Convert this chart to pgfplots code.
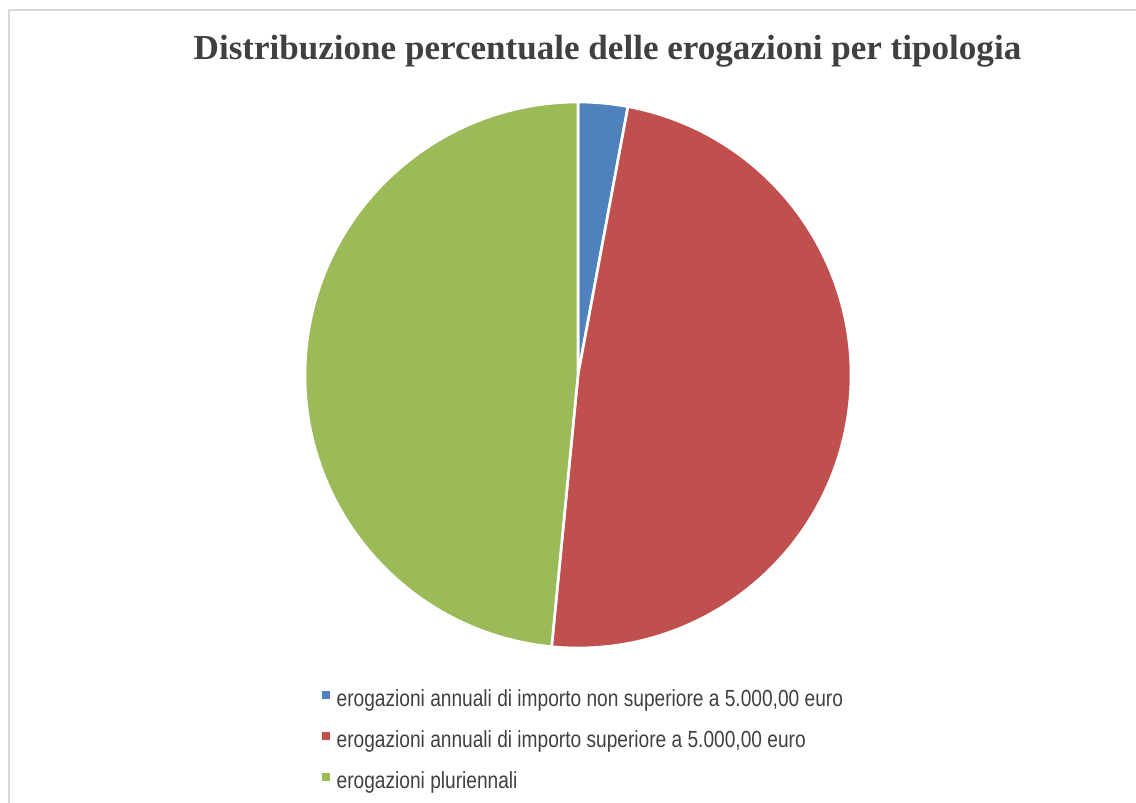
\documentclass[border=0pt]{standalone}
\usepackage{fontspec}
\setmainfont{Liberation Serif}
\newfontfamily\legfont[FakeStretch=0.82]{Liberation Sans}
\usepackage{pgfplots}
\usepackage{pgfplotstable}
\pgfplotsset{compat=1.18}
\definecolor{sblue}{HTML}{4F81BD}
\definecolor{sred}{HTML}{C0504D}
\definecolor{sgreen}{HTML}{9BBB59}
\definecolor{txt}{HTML}{404040}
\definecolor{frm}{HTML}{D9D9D9}

\pgfplotstableread{
value
2.93
48.61
48.46
}\piedata

\begin{document}
\begin{tikzpicture}
\useasboundingbox (0,0) rectangle (852pt,-602.25pt);
\draw[frm, line width=1.2pt] (6.75pt,-7.5pt) rectangle (870pt,-630pt);
\node[font=\bfseries\fontsize{26.3}{31}\selectfont, text=txt, anchor=base] at (455.6pt,-45pt) {Distribuzione percentuale delle erogazioni per tipologia};

\pgfplotstablegetelem{0}{value}\of\piedata \let\va\pgfplotsretval
\pgfplotstablegetelem{1}{value}\of\piedata \let\vb\pgfplotsretval
\pgfplotstablegetelem{2}{value}\of\piedata \let\vc\pgfplotsretval
\pgfmathsetmacro\tot{\va+\vb+\vc}
\pgfmathsetmacro\angA{90}
\pgfmathsetmacro\angB{90-3.6*(\va/\tot)*100}
\pgfmathsetmacro\angC{\angB-3.6*(\vb/\tot)*100}
\pgfmathsetmacro\angD{\angC-3.6*(\vc/\tot)*100}

\begin{axis}[
  at={(433.5pt,-281.25pt)}, anchor=center,
  width=409.5pt, height=409.5pt, scale only axis,
  xmin=-1, xmax=1, ymin=-1, ymax=1,
  hide axis, clip=false, disabledatascaling,
  legend style={at={(axis description cs:0.03,-0.077)}, anchor=north west,
    draw=none, fill=none, inner sep=0pt,
    font=\legfont\fontsize{17.5}{20}\selectfont, text=txt,
    row sep=14.75pt, nodes={inner sep=0pt, text height=12pt, text depth=4pt},
    /tikz/every odd column/.append style={column sep=5.5pt}},
  legend cell align=left,
  legend image code/.code={\fill[#1] (0pt,2pt) rectangle (5.4pt,7.4pt);},
]
\fill[sblue, draw=white, line width=2pt] (0,0) -- ({cos(\angA)},{sin(\angA)}) arc[start angle=\angA, end angle=\angB, radius=1] -- cycle;
\fill[sred, draw=white, line width=2pt] (0,0) -- ({cos(\angB)},{sin(\angB)}) arc[start angle=\angB, end angle=\angC, radius=1] -- cycle;
\fill[sgreen, draw=white, line width=2pt] (0,0) -- ({cos(\angC)},{sin(\angC)}) arc[start angle=\angC, end angle=\angD, radius=1] -- cycle;
\addlegendimage{sblue}
\addlegendentry{erogazioni annuali di importo non superiore a 5.000,00 euro}
\addlegendimage{sred}
\addlegendentry{erogazioni annuali di importo superiore a 5.000,00 euro}
\addlegendimage{sgreen}
\addlegendentry{erogazioni pluriennali}
\end{axis}
\end{tikzpicture}
\end{document}
